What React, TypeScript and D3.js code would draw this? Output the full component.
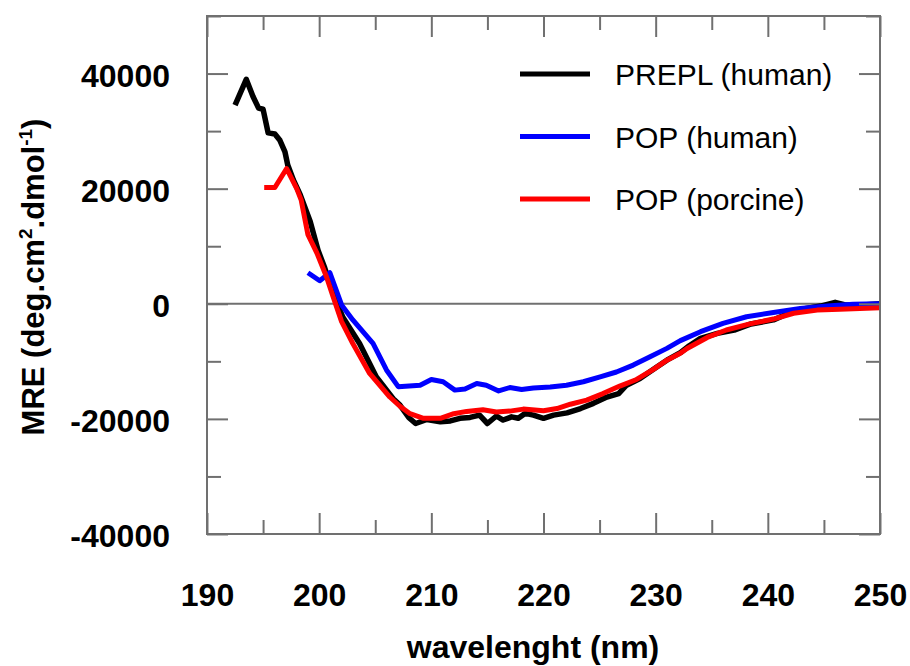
import React, { useEffect, useRef } from 'react';
import * as d3 from 'd3';

// CD spectra

const preplNm = [192.5, 193.5, 194.1, 194.6, 195.0, 195.45, 196.05, 196.5, 196.95, 197.2, 197.7, 198.3,
  199.2, 199.9, 200.5, 201.25, 202.1, 203.6, 205.1, 206.6, 207.2, 208.0, 208.6, 209.6, 210.8, 211.7,
  212.55, 213.45, 214.3, 215.0, 215.8, 216.4, 217.15, 217.75, 218.35, 219.1, 220.0, 220.9, 222.1,
  223.3, 224.45, 225.65, 226.7, 227.4, 228.6, 230.1, 231.0, 232.2, 233.0, 234.0, 235.5, 237.0, 238.5,
  240.5, 242.0, 242.9, 244.7, 246.0, 247.0, 248.5, 250.0];
const preplMre = [34500, 39000, 36000, 34000, 33800, 29700, 29500, 28400, 26400, 24100, 21500, 19000,
  14300, 9300, 6200, 1800, -2300, -6900, -12700, -16500, -17600, -19800, -20800, -20100, -20500, -20350,
  -19900, -19750, -19350, -20800, -19500, -20200, -19650, -19900, -19050, -19350, -19900, -19350, -18950,
  -18200, -17300, -16200, -15600, -14150, -13000, -11000, -9800, -8500, -7300, -6000, -5150, -4570, -3500,
  -2800, -1500, -970, -400, 250, -230, -200, 0];

const popHumanNm = [199.0, 200.05, 200.95, 202.0, 203.0, 204.8, 206.0, 207.05, 209.0, 210.0, 211.05,
  212.1, 213.0, 214.05, 214.9, 216.0, 217.0, 218.05, 219.1, 220.6, 222.05, 223.55, 225.05, 226.5, 228.0,
  229.5, 231.0, 232.2, 234.0, 236.0, 238.1, 240.5, 242.9, 245.3, 247.6, 250.0];
const popHumanMre = [5400, 4000, 5400, -200, -2800, -6900, -11500, -14400, -14150, -13150, -13550,
  -15000, -14800, -13850, -14150, -15150, -14550, -14900, -14650, -14450, -14150, -13550, -12700, -11850,
  -10650, -9200, -7750, -6400, -4850, -3400, -2250, -1500, -800, -400, -100, 0];

const popPorcineNm = [195.1, 196.05, 197.1, 198.0, 198.4, 199.0, 199.8, 200.65, 201.25, 202.0, 203.0,
  204.5, 206.3, 207.2, 208.1, 209.3, 210.8, 212.0, 213.15, 214.6, 215.8, 217.0, 218.2, 220.0, 221.2,
  222.4, 223.85, 225.3, 226.8, 228.3, 229.8, 231.0, 232.2, 232.8, 234.6, 236.3, 238.4, 240.5, 242.3,
  244.4, 246.4, 248.2, 250.0];
const popPorcineMre = [20200, 20200, 23500, 20000, 18000, 12000, 8800, 4700, 1200, -3100, -6900,
  -12100, -16200, -17800, -19100, -19900, -19900, -19100, -18700, -18400, -18800, -18650, -18300, -18600,
  -18200, -17450, -16750, -15600, -14300, -13150, -11400, -9800, -8600, -7760, -5850, -4550, -3500, -2650,
  -1650, -1100, -950, -800, -700];

const seriesNames = ['PREPL (human)', 'POP (human)', 'POP (porcine)'];
const seriesColors = ['#000000', '#0000ff', '#ff0000'];

const xMajor = [190, 200, 210, 220, 230, 240, 250];
const xMinor = [195, 205, 215, 225, 235, 245];
const yMajor = [-40000, -20000, 0, 20000, 40000];
const yMinor = [-30000, -10000, 10000, 30000, 50000];

const W = 910;
const H = 666;
const left = 207, right = 880, top = 16, bottom = 534;
const axisGrey = '#707070';
const font = '"Liberation Sans", Arial, sans-serif';

const App = () => {
  const ref = useRef(null);

  useEffect(() => {
    const svg = d3.select(ref.current);
    svg.selectAll('*').remove();

    const x = d3.scaleLinear().domain([190, 250]).range([left, right]);
    const y = d3.scaleLinear().domain([-40000, 50000]).range([bottom, top]);

    // zero line
    svg.append('line')
      .attr('x1', left).attr('x2', right)
      .attr('y1', y(0)).attr('y2', y(0))
      .attr('stroke', axisGrey).attr('stroke-width', 2);

    // spectra
    const line = d3.line<[number, number]>()
      .x(d => x(d[0]))
      .y(d => y(d[1]));
    const series = [
      d3.zip(preplNm, preplMre),
      d3.zip(popHumanNm, popHumanMre),
      d3.zip(popPorcineNm, popPorcineMre),
    ];
    const widths = [5.5, 5, 5];
    series.forEach((pts, i) => {
      svg.append('path')
        .attr('d', line(pts as [number, number][]))
        .attr('fill', 'none')
        .attr('stroke', seriesColors[i])
        .attr('stroke-width', widths[i])
        .attr('stroke-linejoin', 'round');
    });

    // ticks on all four sides, pointing in
    const styleAxis = (g) => {
      g.select('.domain').remove();
      g.selectAll('line').attr('stroke', axisGrey).attr('stroke-width', 2);
      g.selectAll('text')
        .attr('font-family', font)
        .attr('font-size', 32)
        .attr('font-weight', 'bold')
        .attr('fill', '#000');
    };
    const none = () => '';
    const plain = (d) => String(d);

    svg.append('g').attr('transform', `translate(0,${bottom})`)
      .call(d3.axisBottom(x).tickValues(xMajor).tickSize(-21).tickPadding(49).tickFormat(plain))
      .call(styleAxis);
    svg.append('g').attr('transform', `translate(0,${bottom})`)
      .call(d3.axisBottom(x).tickValues(xMinor).tickSize(-14).tickFormat(none))
      .call(styleAxis);
    svg.append('g').attr('transform', `translate(0,${top})`)
      .call(d3.axisTop(x).tickValues(xMajor).tickSize(-21).tickFormat(none))
      .call(styleAxis);
    svg.append('g').attr('transform', `translate(0,${top})`)
      .call(d3.axisTop(x).tickValues(xMinor).tickSize(-14).tickFormat(none))
      .call(styleAxis);

    svg.append('g').attr('transform', `translate(${left},0)`)
      .call(d3.axisLeft(y).tickValues(yMajor).tickSize(-21).tickPadding(37).tickFormat(plain))
      .call(styleAxis)
      .selectAll('text').attr('dy', '0.4em');
    svg.append('g').attr('transform', `translate(${left},0)`)
      .call(d3.axisLeft(y).tickValues(yMinor).tickSize(-14).tickFormat(none))
      .call(styleAxis);
    svg.append('g').attr('transform', `translate(${right},0)`)
      .call(d3.axisRight(y).tickValues(yMajor).tickSize(-21).tickFormat(none))
      .call(styleAxis);
    svg.append('g').attr('transform', `translate(${right},0)`)
      .call(d3.axisRight(y).tickValues(yMinor).tickSize(-14).tickFormat(none))
      .call(styleAxis);

    // frame
    svg.append('rect')
      .attr('x', left).attr('y', top)
      .attr('width', right - left).attr('height', bottom - top)
      .attr('fill', 'none')
      .attr('stroke', axisGrey).attr('stroke-width', 2);

    // axis titles
    svg.append('text')
      .attr('x', 533).attr('y', 658)
      .attr('text-anchor', 'middle')
      .attr('font-family', font).attr('font-size', 32).attr('font-weight', 'bold')
      .text('wavelenght (nm)');

    const yt = svg.append('text')
      .attr('transform', 'translate(44,277) rotate(-90)')
      .attr('text-anchor', 'middle')
      .attr('font-family', font).attr('font-size', 31).attr('font-weight', 'bold');
    yt.append('tspan').text('MRE (deg.cm');
    yt.append('tspan').attr('font-size', 19).attr('dy', -12).text('2');
    yt.append('tspan').attr('dy', 12).text('.dmol');
    yt.append('tspan').attr('font-size', 19).attr('dy', -12).text('-1');
    yt.append('tspan').attr('dy', 12).text(')');

    // legend
    const legend = svg.append('g');
    seriesNames.forEach((name, i) => {
      const ly = 74 + i * 62.5;
      legend.append('line')
        .attr('x1', 520).attr('x2', 590)
        .attr('y1', ly).attr('y2', ly)
        .attr('stroke', seriesColors[i]).attr('stroke-width', 5);
      legend.append('text')
        .attr('x', 615).attr('y', ly + 11)
        .attr('font-family', font).attr('font-size', 30)
        .attr('fill', '#000')
        .text(name);
    });
  });

  return (
    <svg
      ref={ref}
      width={W}
      height={H}
      viewBox={`0 0 ${W} ${H}`}
      style={{ position: 'absolute', left: 0, top: 0, background: '#fff' }}
    />
  );
};

export default App;
